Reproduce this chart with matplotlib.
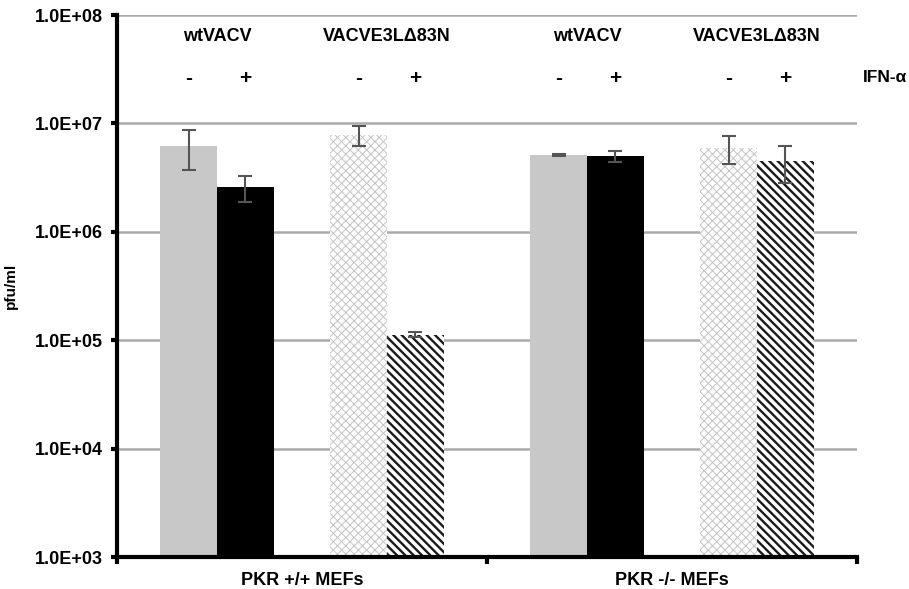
import numpy as np
import matplotlib.pyplot as plt
from matplotlib.ticker import FixedLocator, FuncFormatter

plt.rcParams['font.family'] = ['Liberation Sans', 'DejaVu Sans']
plt.rcParams['font.weight'] = 'bold'

# donnees
cellules = ["PKR +/+ MEFs", "PKR -/- MEFs"]
virus = ["wtVACV", "VACVE3LΔ83N"]
ifn_signes = ["-", "+", "-", "+"]

wt_moins = [6.2e6, 5.1e6]
wt_moins_err = [2.5e6, 0.1e6]
wt_plus = [2.6e6, 5.0e6]
wt_plus_err = [0.7e6, 0.55e6]
mut_moins = [7.8e6, 5.9e6]
mut_moins_err = [1.6e6, 1.7e6]
mut_plus = [1.12e5, 4.5e6]
mut_plus_err = [0.06e5, 1.7e6]

series = [
    (wt_moins, wt_moins_err, dict(color="#c8c8c8", linewidth=0), 1.0),
    (wt_plus, wt_plus_err, dict(color="black", linewidth=0), 1.0),
    (mut_moins, mut_moins_err, dict(facecolor="white", edgecolor="#c4c4c4", hatch="xxxx", linewidth=0), 0.7),
    (mut_plus, mut_plus_err, dict(facecolor="white", edgecolor="#1a1a1a", hatch="\\\\\\\\", linewidth=0), 1.7),
]
decalages = [-2, -1, 1, 2]
w = 0.153

fig = plt.figure(figsize=(9.09, 5.89), dpi=100)
ax = fig.add_axes([117/909, 32/589, 740/909, 542/589])
x = np.arange(len(cellules))

for (vals, err, style, hlw), d in zip(series, decalages):
    with plt.rc_context({'hatch.linewidth': hlw}):
        ax.bar(x + d*w, vals, width=w, **style, zorder=2)
    ax.errorbar(x + d*w, vals, yerr=err, fmt="none", ecolor="#555555",
                elinewidth=1.5, capsize=5, capthick=1.5, zorder=3)

ax.set_yscale("log")
ax.set_ylim(1e3, 1e8)
ax.set_xlim(-0.5, 1.5)
ax.yaxis.set_major_locator(FixedLocator([1e3, 1e4, 1e5, 1e6, 1e7, 1e8]))
ax.yaxis.set_major_formatter(FuncFormatter(lambda v, p: f"1.0E+{int(round(np.log10(v))):02d}"))
ax.yaxis.set_minor_locator(FixedLocator([]))
ax.grid(axis="y", color="#aaaaaa", linewidth=1.8, zorder=0)
ax.set_axisbelow(True)

for s in ["top", "right"]:
    ax.spines[s].set_visible(False)
ax.spines["left"].set_linewidth(3)
ax.spines["bottom"].set_linewidth(3)
ax.tick_params(axis="y", length=4, width=3, labelsize=13, pad=6)

ax.set_xticks([-0.5, 0.5, 1.5])
ax.set_xticklabels([])
ax.set_xticks(x, minor=True)
ax.set_xticklabels(cellules, minor=True)
ax.tick_params(axis="x", which="major", length=5, width=3)
ax.tick_params(axis="x", which="minor", length=0, labelsize=13, pad=11)

ax.set_ylabel("pfu/ml", fontsize=11, fontweight="bold")
ax.yaxis.set_label_coords(-99/740, 0.5)

# etiquettes au dessus des barres
for i in x:
    ax.text(i - 1.5*w, 0.96, virus[0], transform=ax.get_xaxis_transform(),
            ha="center", va="center", fontsize=13)
    ax.text(i + 1.5*w, 0.96, virus[1], transform=ax.get_xaxis_transform(),
            ha="center", va="center", fontsize=13)
    for d, sg in zip(decalages, ifn_signes):
        ax.text(i + d*w, 0.882, sg, transform=ax.get_xaxis_transform(),
                ha="center", va="center", fontsize=15)
fig.text(863/909, 1 - 78/589, "IFN-α", ha="left", va="center", fontsize=12.5, fontweight="bold")

fig.savefig("out.png", dpi=100)
